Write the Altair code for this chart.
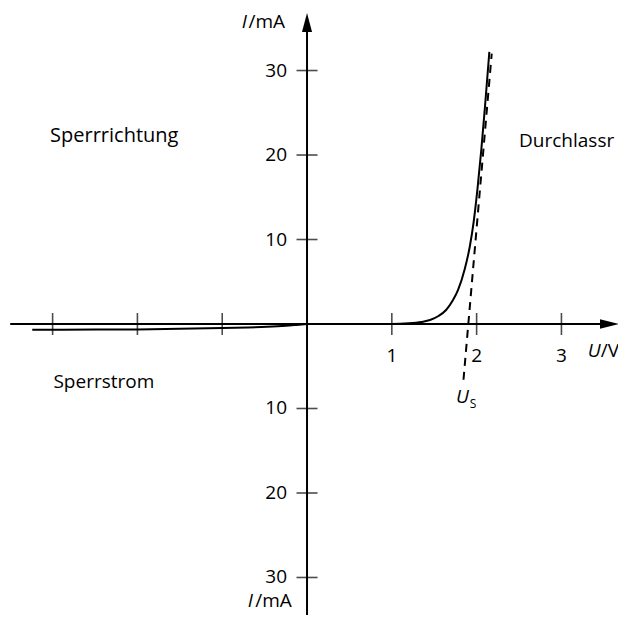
import altair as alt
import pandas as pd

# Diode characteristic: U in V, I in mA (reverse part scaled like the drawing)
curve_u = [-3.24, -2.5, -2.0, -1.5, -1.0, -0.7, -0.47, -0.25, -0.1, 0.0, 0.5, 1.0,
           1.2, 1.35, 1.45, 1.55, 1.64, 1.72, 1.78, 1.86, 1.92, 1.965, 2.01, 2.055, 2.10, 2.15]
curve_i = [-0.68, -0.66, -0.64, -0.57, -0.47, -0.40, -0.32, -0.20, -0.08, 0.0, 0.0, 0.0,
           0.08, 0.25, 0.47, 0.95, 1.66, 2.8, 4.0, 6.5, 9.2, 12.1, 16.0, 20.6, 25.9, 32.2]

# Tangent (threshold voltage construction)
tangent_u = [1.845, 2.178]
tangent_i = [-6.6, 32.0]

x_ticks = [-3, -2, -1, 1, 2, 3]
x_label_pos = [1, 2, 3]
x_labels = ["1", "2", "3"]
y_ticks = [30, 20, 10, -10, -20, -30]
y_labels = ["30", "20", "10", "10", "20", "30"]

FONT = "Open Sans"
FS = 19

xs = alt.Scale(domain=[-3.526, 3.667], nice=False, zero=False)
ys = alt.Scale(domain=[-34.44, 37.40], nice=False, zero=False)


def X(f="U"):
    return alt.X(f, type="quantitative", scale=xs, axis=None)


def Y(f="I"):
    return alt.Y(f, type="quantitative", scale=ys, axis=None)


curve_df = pd.DataFrame({"U": curve_u, "I": curve_i, "o": list(range(len(curve_u)))})
tan_df = pd.DataFrame({"U": tangent_u, "I": tangent_i})
xt_df = pd.DataFrame({"U": x_ticks, "I": [0] * len(x_ticks)})
yt_df = pd.DataFrame({"U": [0] * len(y_ticks), "I": y_ticks})
xl_df = pd.DataFrame({"U": x_label_pos, "I": [0] * 3, "t": x_labels})
yl_df = pd.DataFrame({"U": [0] * 6, "I": y_ticks, "t": y_labels})

axes_df = pd.DataFrame({"U": [-3.50, 0.0], "U2": [3.46, 0.0],
                        "I": [0.0, -36.0], "I2": [0.0, 34.6]})
arrows_df = pd.DataFrame({"U": [3.567], "I": [0.0]})
arrows_up_df = pd.DataFrame({"U": [0.0], "I": [35.68]})

axes = alt.Chart(axes_df).mark_rule(color="black", strokeWidth=2).encode(
    x=X(), x2="U2", y=Y(), y2="I2")

x_arrow = alt.Chart(arrows_df).mark_point(
    shape="M-1,-0.5L1,0L-1,0.5Z", size=361, filled=True, color="black",
    opacity=1, strokeWidth=0).encode(x=X(), y=Y())
y_arrow = alt.Chart(arrows_up_df).mark_point(
    shape="M-0.53,1L0,-1L0.53,1Z", size=361, filled=True, color="black",
    opacity=1, strokeWidth=0).encode(x=X(), y=Y())

x_tick_marks = alt.Chart(xt_df).mark_tick(orient="vertical", size=22, thickness=1.6,
                                          color="black").encode(x=X(), y=Y())
y_tick_marks = alt.Chart(yt_df).mark_tick(orient="horizontal", size=21, thickness=1.6,
                                          color="black").encode(x=X(), y=Y())

x_tick_labels = alt.Chart(xl_df).mark_text(font=FONT, fontSize=FS, align="center",
                                           baseline="alphabetic", dy=38,
                                           color="black").encode(x=X(), y=Y(), text="t:N")
y_tick_labels = alt.Chart(yl_df).mark_text(font=FONT, fontSize=FS, align="right",
                                           baseline="alphabetic", dx=-20, dy=6,
                                           color="black").encode(x=X(), y=Y(), text="t:N")

curve = alt.Chart(curve_df).mark_line(color="black", strokeWidth=2,
                                      interpolate="monotone").encode(
    x=X(), y=Y(), order="o:Q")
tangent = alt.Chart(tan_df).mark_line(color="black", strokeWidth=2,
                                      strokeDash=[8, 6]).encode(x=X(), y=Y())

# annotation texts
ann_text = ["Sperrrichtung", "Durchlassr", "Sperrstrom", "/mA", "/mA", "/V"]
ann_u = [-3.03, 2.50, -2.99, -0.69, -0.61, 3.465]
ann_i = [21.5, 20.9, -7.6, 35.0, -33.5, -3.9]
ann_size = [20, 19, 19, 19, 19, 19]
ital_text = ["I", "I", "U", "U"]
ital_u = [-0.77, -0.70, 3.31, 1.757]
ital_i = [35.0, -33.5, -3.9, -9.35]
sub_text = ["S"]
sub_u = [1.92]
sub_i = [-9.95]

ann = alt.Chart(pd.DataFrame({"U": ann_u, "I": ann_i, "t": ann_text, "s": ann_size})).mark_text(
    font=FONT, align="left", baseline="alphabetic", color="black"
).encode(x=X(), y=Y(), text="t:N", size=alt.Size("s:Q", scale=None, legend=None))
ital = alt.Chart(pd.DataFrame({"U": ital_u, "I": ital_i, "t": ital_text})).mark_text(
    font=FONT, fontSize=FS, fontStyle="italic", align="left", baseline="alphabetic",
    color="black").encode(x=X(), y=Y(), text="t:N")
sub = alt.Chart(pd.DataFrame({"U": sub_u, "I": sub_i, "t": sub_text})).mark_text(
    font=FONT, fontSize=12, align="left", baseline="alphabetic", color="black"
).encode(x=X(), y=Y(), text="t:N")

chart = alt.layer(
    axes, x_arrow, y_arrow, x_tick_marks, y_tick_marks,
    curve, tangent, x_tick_labels, y_tick_labels, ann, ital, sub
).properties(
    width=610, height=607, padding=0, autosize=alt.AutoSizeParams(type="none")
).configure_view(stroke=None)

chart.save("out.html", embed_options={"renderer": "svg", "actions": False})
